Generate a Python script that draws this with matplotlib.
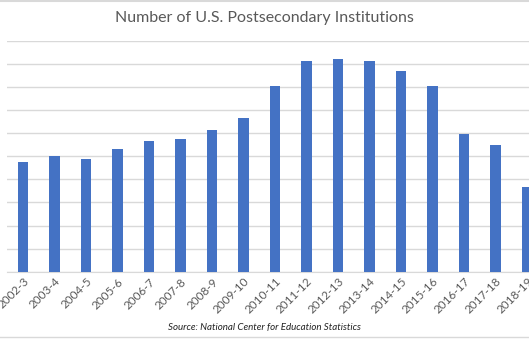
import matplotlib
matplotlib.use("Agg")
import matplotlib.pyplot as plt
from matplotlib.lines import Line2D
import numpy as np

# School years and number of institutions (y-axis labels are cropped in the source,
# values read relative to the gridlines)
years = ["2002-3", "2003-4", "2004-5", "2005-6", "2006-7", "2007-8", "2008-9",
         "2009-10", "2010-11", "2011-12", "2012-13", "2013-14", "2014-15",
         "2015-16", "2016-17", "2017-18", "2018-19"]
institutions = [6874, 6902, 6890, 6931, 6965, 6974, 7013, 7065, 7205, 7313,
                7322, 7313, 7270, 7205, 6997, 6949, 6766]

plt.rcParams['font.family'] = ['Lato', 'DejaVu Sans']
text_grey = '#595959'

fig = plt.figure(figsize=(5.29, 3.53), dpi=100)
ax = fig.add_axes([0.0137, 0.2303, 1.0123, 0.6535])

x = np.arange(len(years))
ax.bar(x, institutions, width=0.33, color='#4472C4', zorder=3)

ax.set_xlim(-0.5, len(years) - 0.5)
ax.set_ylim(6400, 7400)
ax.set_yticks(np.arange(6400, 7401, 100))
ax.yaxis.grid(True, color='#d9d9d9', linewidth=1, zorder=0)
ax.tick_params(axis='y', left=False, labelleft=False)
ax.tick_params(axis='x', length=0, pad=3)
ax.set_xticks(x)
ax.set_xticklabels(years, rotation=45, ha='right', va='top',
                   rotation_mode='anchor', fontsize=8.5, color=text_grey)
for side in ['top', 'right', 'left']:
    ax.spines[side].set_visible(False)
ax.spines['bottom'].set_color('#d9d9d9')

fig.text(0.5, 0.95, 'Number of U.S. Postsecondary Institutions',
         ha='center', va='center', fontsize=11.5, color=text_grey)
fig.text(0.5, 0.073, 'Source: National Center for Education Statistics',
         ha='center', va='center', fontsize=7, style='italic', color='#222222')

# chart frame lines (top and bottom of the Excel chart border)
fig.add_artist(Line2D([0, 1], [0.998, 0.998], color='#d9d9d9', lw=1.5))
fig.add_artist(Line2D([0, 1], [0.045, 0.045], color='#d9d9d9', lw=1))

fig.savefig('out.png', dpi=100)
